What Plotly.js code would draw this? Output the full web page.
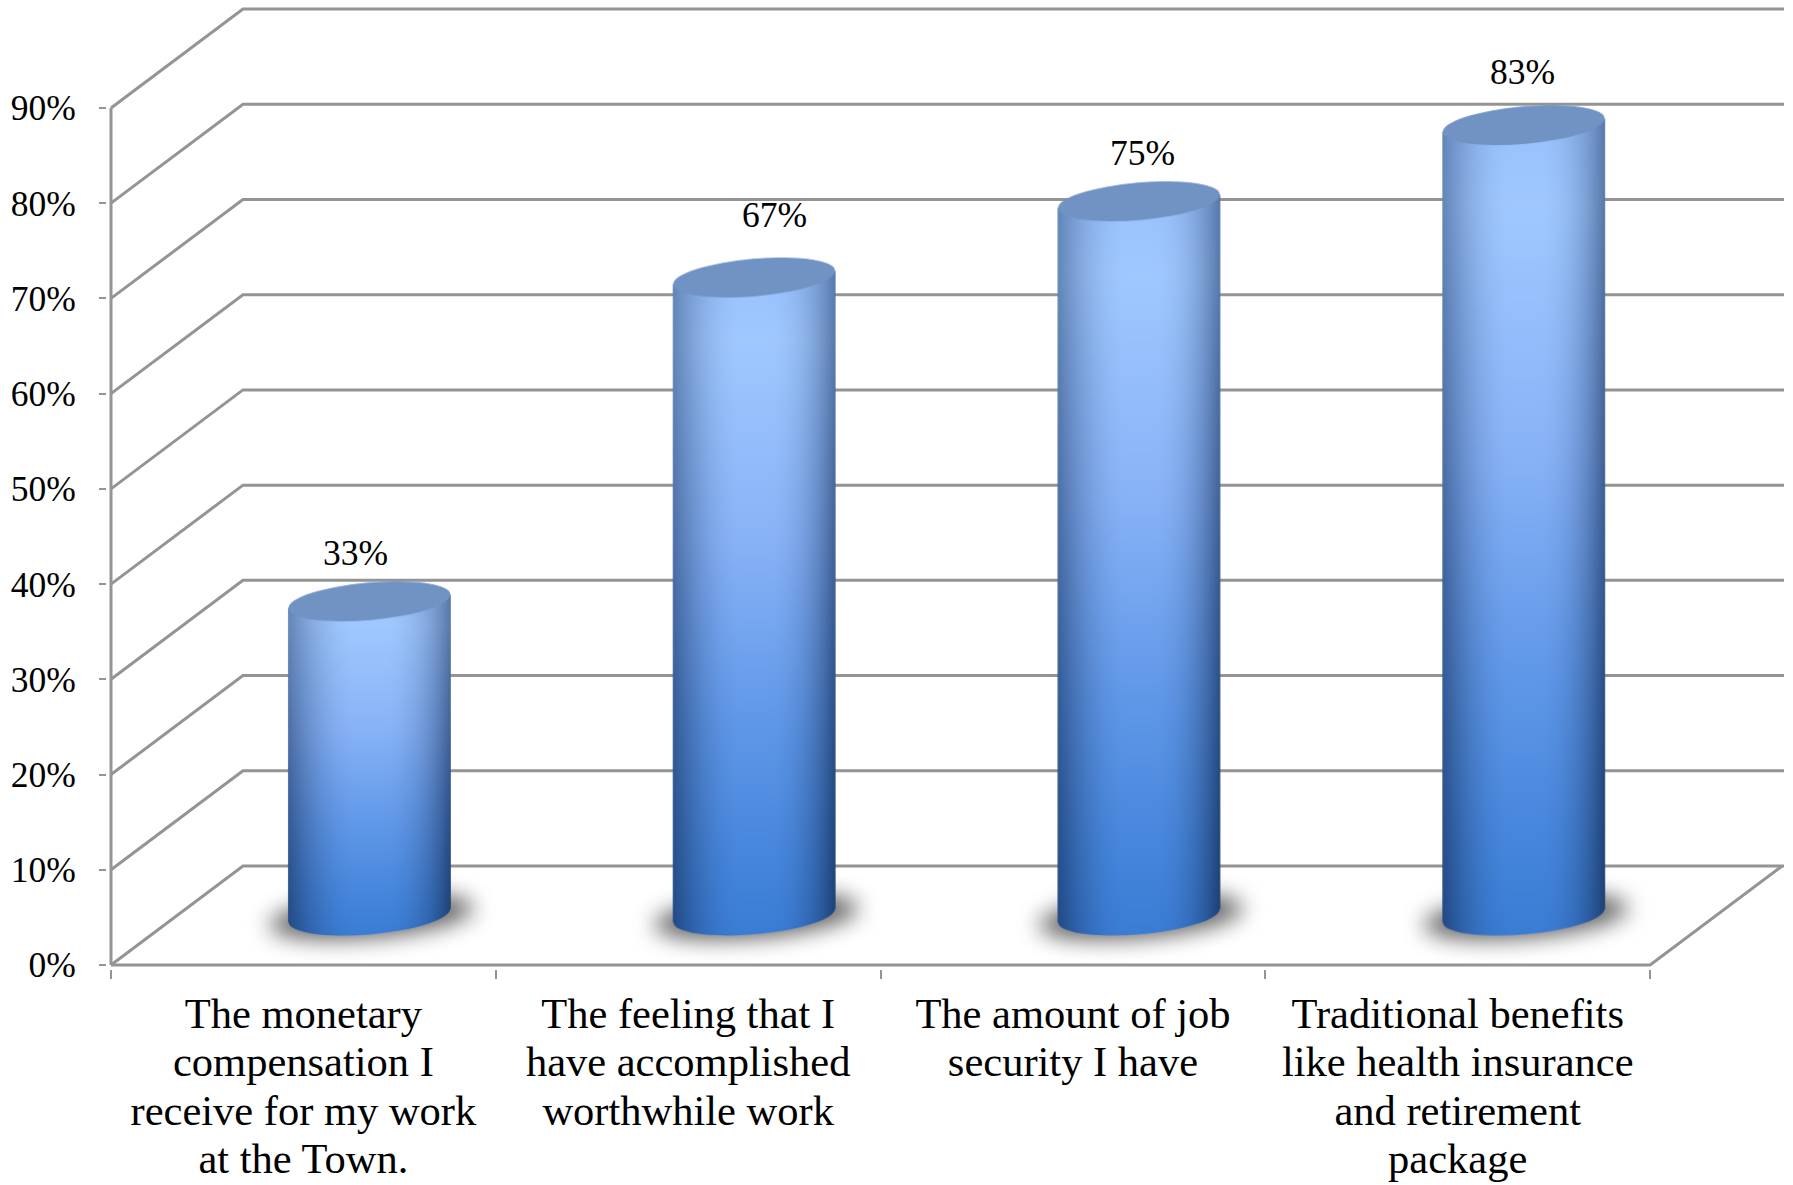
<!DOCTYPE html>
<html>
<head>
<meta charset="utf-8">
<script src="https://cdn.plot.ly/plotly-3.0.1.min.js"></script>
<style>html,body{margin:0;padding:0;background:#fff}</style>
</head>
<body>
<div id="chart" style="width:1793px;height:1185px"></div>
<script>
// Survey results: share of respondents per job-satisfaction item
const categories = [
  "The monetary<br>compensation I<br>receive for my work<br>at the Town.",
  "The feeling that I<br>have accomplished<br>worthwhile work",
  "The amount of job<br>security I have",
  "Traditional benefits<br>like health insurance<br>and retirement<br>package"
];
const percentages = [33, 67, 75, 83];
const valueTicks = [0, 10, 20, 30, 40, 50, 60, 70, 80, 90];

// Pseudo-3D frame: how far the back wall is shifted from the front plane, in axis units
const depthX = 0.343;
const depthY = 10.39;
const xMax = 4.348;
const yMax = 90 + depthY;

// Frame box in page pixels; the plot area is a few pixels larger so edge lines keep their full width
const W = 1793, H = 1185;
const box = {l: 111, r: 9, t: 8.5, b: 220};
const pxX = (W - box.l - box.r) / xMax;
const pxY = (H - box.t - box.b) / yMax;
const edge = 4;
const margin = {l: box.l - edge, r: box.r - edge, t: box.t - edge, b: box.b - edge};

const barWidth = 0.423;
const barCentre = i => i + 0.5 + depthX / 2;
const barBase = depthY / 2;

const GREY = "#949494";
const serif = "Liberation Serif, Times New Roman, serif";
const axisLabelLineRatio = 1.143 / 1.3;

// Data-label nudges (x in axis units, y in axis units above the cylinder top)
const labelDx = [-0.036, 0.053, 0.008, -0.004];
const labelDy = [5.06, 6.52, 5.04, 5.62];

const lerp = (p, q, t) => p + (q - p) * t;

// Piecewise colour ramp down the cylinder, v from 0 (top) to 1 (bottom)
const toneStops = [
  [0, [150, 190, 250]], [0.12, [160, 200, 255]], [0.42, [135, 178, 246]],
  [0.68, [96, 152, 232]], [0.88, [70, 134, 220]], [1, [58, 124, 212]]
];
function tone(v) {
  for (let i = 1; i < toneStops.length; i++) {
    if (v <= toneStops[i][0]) {
      const t = (v - toneStops[i - 1][0]) / (toneStops[i][0] - toneStops[i - 1][0]);
      return toneStops[i - 1][1].map((c, k) => lerp(c, toneStops[i][1][k], t));
    }
  }
  return toneStops[toneStops.length - 1][1];
}

// Darkening toward the silhouette, u from 0 (left edge) to 1 (right edge)
function falloff(u) {
  if (u < 0.4) { const t = 1 - u / 0.4; return 0.4 * t * t + 0.08 * t; }
  if (u > 0.58) { const t = (u - 0.58) / 0.42; return 0.48 * t * t + 0.12 * t * t * t * t; }
  return 0;
}

// Per-cylinder raster: drop shadow, shaded body, darker lid
function drawCylinder(value) {
  const pad = 60;
  const bodyW = barWidth * pxX;
  const bodyH = value * pxY;
  const cw = Math.ceil(bodyW + 2 * pad), ch = Math.ceil(bodyH + 2 * pad);
  const c = document.createElement("canvas");
  c.width = cw; c.height = ch;
  const g = c.getContext("2d");
  const cx = cw / 2, topY = pad, botY = pad + bodyH;
  const tilt = -5 * Math.PI / 180;
  const a = bodyW / 2 - 0.3, b = 18.8;
  const side = 6.6;
  const L = cx - bodyW / 2;

  // shadow on the floor
  g.save();
  g.filter = "blur(11px)";
  g.fillStyle = "rgba(60,60,60,0.82)";
  g.beginPath();
  g.ellipse(cx + 2, botY + 1, bodyW / 2 + 21, 21, tilt, 0, 2 * Math.PI);
  g.fill();
  g.restore();

  // shaded body pixels
  const off = document.createElement("canvas");
  off.width = cw; off.height = ch;
  const og = off.getContext("2d");
  const img = og.createImageData(cw, ch);
  for (let y = 0; y < ch; y++) {
    const v = Math.min(1, Math.max(0, (y - topY + 20) / (bodyH + 40)));
    const base = tone(v);
    for (let x = 0; x < cw; x++) {
      const u = Math.min(1, Math.max(0, (x - L) / bodyW));
      const dark = Math.min(0.8, falloff(u) * (0.85 + 0.55 * v));
      const i = (y * cw + x) * 4;
      img.data[i] = lerp(base[0], 22, dark);
      img.data[i + 1] = lerp(base[1], 48, dark);
      img.data[i + 2] = lerp(base[2], 92, dark);
      img.data[i + 3] = 255;
    }
  }
  og.putImageData(img, 0, 0);

  // body outline
  g.save();
  g.beginPath();
  g.ellipse(cx, topY, a, b, tilt, 0, 2 * Math.PI);
  g.closePath();
  g.moveTo(cx - bodyW / 2, topY + side);
  g.lineTo(cx + bodyW / 2, topY - side);
  g.lineTo(cx + bodyW / 2, botY - side);
  g.lineTo(cx - bodyW / 2, botY + side);
  g.closePath();
  g.moveTo(cx + a, botY);
  g.ellipse(cx, botY, a, b, tilt, 0, 2 * Math.PI);
  g.clip();
  g.drawImage(off, 0, 0);

  // lid
  g.fillStyle = "#7193c4";
  g.beginPath();
  g.ellipse(cx, topY, a, b, tilt, 0, 2 * Math.PI);
  g.fill();
  g.restore();
  return {url: c.toDataURL("image/png"), pad, cw, ch};
}

const images = percentages.map((val, i) => {
  const d = drawCylinder(val);
  return {
    source: d.url, xref: "x", yref: "y", layer: "above",
    x: barCentre(i) - d.cw / 2 / pxX,
    y: barBase + val + d.pad / pxY,
    sizex: d.cw / pxX, sizey: d.ch / pxY,
    sizing: "stretch", xanchor: "left", yanchor: "top"
  };
});

// Frame lines: each tick runs from the front plane to the back wall, then across it
const frameX = [], frameY = [];
valueTicks.forEach(t => {
  frameX.push(0, depthX, xMax, null);
  frameY.push(t, t + depthY, t + depthY, null);
});
frameX.push(0, 0, null, 0, 4, 4 + depthX);
frameY.push(0, 90, null, 0, 0, depthY);

const traces = [
  {
    type: "scatter", mode: "lines", x: frameX, y: frameY, hoverinfo: "skip",
    line: {color: GREY, width: 3}, showlegend: false
  },
  {
    type: "bar", x: percentages.map((_, i) => barCentre(i)), y: percentages,
    base: percentages.map(() => barBase), width: 0.38,
    marker: {color: "#6f9fe8", line: {width: 0}}, showlegend: false
  }
];

const annotations = percentages.map((val, i) => ({
  x: barCentre(i) + labelDx[i], y: barBase + val + labelDy[i],
  xref: "x", yref: "y", text: val + "%", showarrow: false,
  xanchor: "center", yanchor: "middle",
  font: {family: serif, size: 35.5, color: "#000"}
}));

const layout = {
  width: W, height: H, margin, showlegend: false,
  paper_bgcolor: "#fff", plot_bgcolor: "#fff",
  bargap: 0, images, annotations,
  xaxis: {
    type: "linear", range: [-edge / pxX, xMax + edge / pxX],
    showgrid: false, zeroline: false, showline: false,
    tickmode: "array", tickvals: categories.map((_, i) => i + 0.5), ticktext: categories,
    ticks: "", ticklen: 0, tickangle: 0, automargin: false, ticklabelstandoff: 15,
    tickfont: {family: serif, size: 42.5, color: "#000"},
    minor: {tickmode: "array", tickvals: [0, 1, 2, 3, 4], ticks: "outside", ticklen: 9,
            tickwidth: 2, tickcolor: GREY, showgrid: false}
  },
  yaxis: {
    range: [-edge / pxY, yMax + edge / pxY], showgrid: false, zeroline: false, showline: false,
    tickmode: "array", tickvals: valueTicks, ticktext: valueTicks.map(t => t + "%"),
    ticks: "outside", ticklen: 7, tickwidth: 2, tickcolor: GREY, automargin: false,
    ticklabelstandoff: 16,
    tickfont: {family: serif, size: 35.5, color: "#000"}
  }
};

Plotly.newPlot("chart", traces, layout, {displayModeBar: false, staticPlot: true}).then(gd => {
  // Tighten the leading of the multi-line category labels
  gd.querySelectorAll(".xtick text tspan.line").forEach(line => {
    const dy = parseFloat(line.getAttribute("dy"));
    if (dy) line.setAttribute("dy", (dy * axisLabelLineRatio) + "em");
  });
});
</script>
</body>
</html>
